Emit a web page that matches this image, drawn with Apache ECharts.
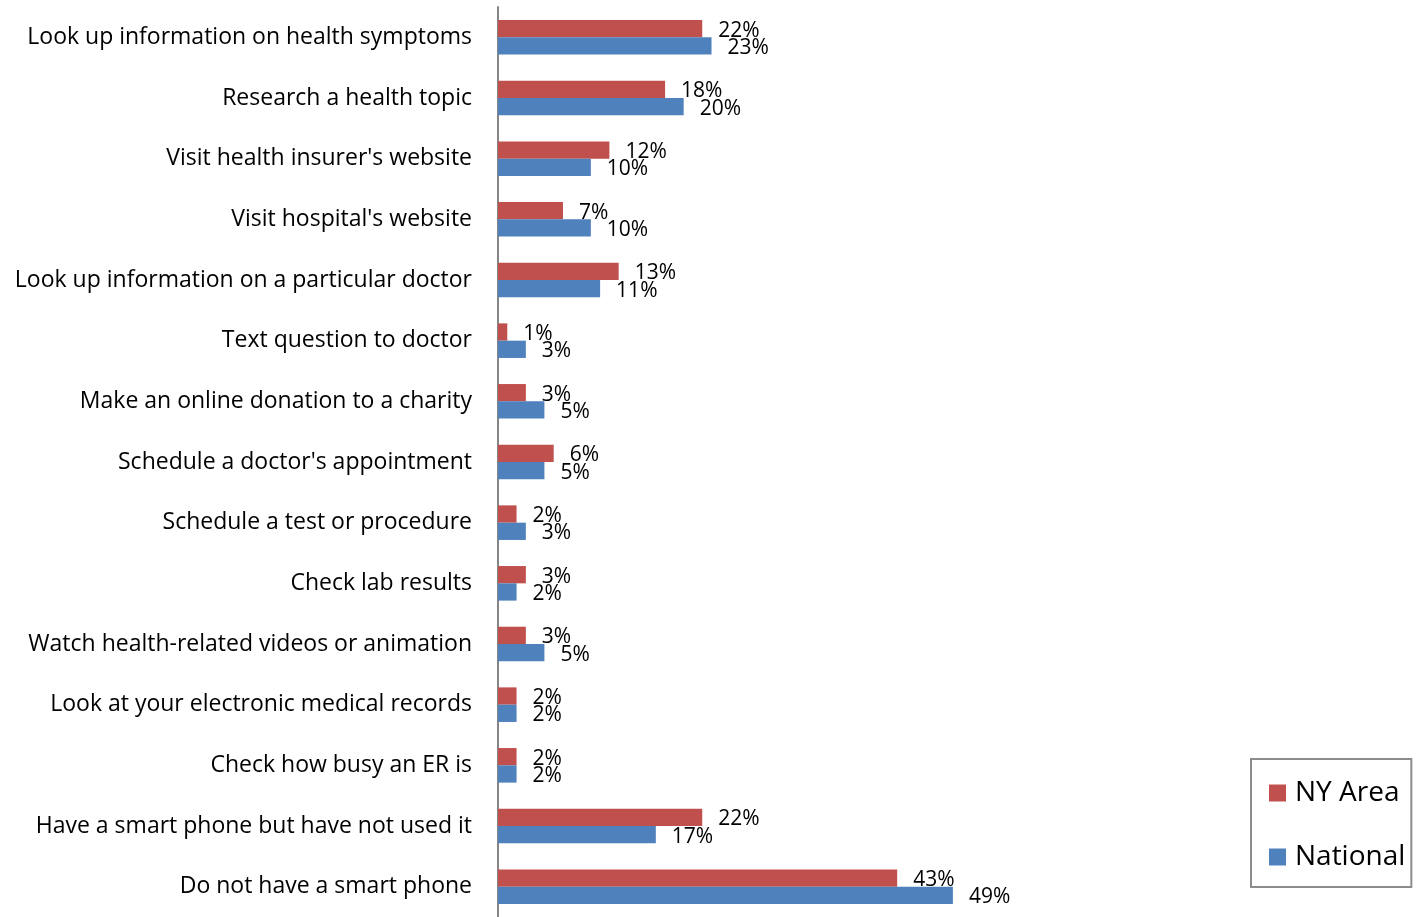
<!DOCTYPE html>
<html>
<head>
<meta charset="utf-8">
<script src="https://cdn.jsdelivr.net/npm/echarts@6/dist/echarts.min.js"></script>
<style>
  html, body { margin: 0; padding: 0; background: #fff; }
  #chart { width: 1416px; height: 917px; }
</style>
</head>
<body>
<div id="chart"></div>
<script>
const categories = [
  'Look up information on health symptoms',
  'Research a health topic',
  "Visit health insurer's website",
  "Visit hospital's website",
  'Look up information on a particular doctor',
  'Text question to doctor',
  'Make an online donation to a charity',
  "Schedule a doctor's appointment",
  'Schedule a test or procedure',
  'Check lab results',
  'Watch health-related videos or animation',
  'Look at your electronic medical records',
  'Check how busy an ER is',
  'Have a smart phone but have not used it',
  'Do not have a smart phone'
]
const nyArea = [22, 18, 12, 7, 13, 1, 3, 6, 2, 3, 3, 2, 2, 22, 43]
const national = [23, 20, 10, 10, 11, 3, 5, 5, 3, 2, 5, 2, 2, 17, 49]

const font = '"Open Sans", sans-serif'

// bar label, shared by both series
const barLabel = {
  show: true,
  position: 'right',
  distance: 16,
  offset: [0, 2],
  formatter: '{c}%',
  color: '#000',
  fontFamily: font,
  fontSize: 21
}

const chart = echarts.init(document.getElementById('chart'))
chart.setOption({
  animation: false,
  grid: { left: 498, top: 7, width: 557, height: 916 },
  legend: {
    orient: 'vertical',
    left: 1251,
    top: 759,
    padding: [19, 6, 15, 18],
    itemGap: 34,
    itemWidth: 17,
    itemHeight: 17,
    icon: 'rect',
    borderColor: '#8c8c8c',
    borderWidth: 2,
    textStyle: { fontFamily: font, fontSize: 28, lineHeight: 30, color: '#000', padding: [0, 0, 0, 4] },
    data: ['NY Area', 'National']
  },
  xAxis: {
    type: 'value',
    min: 0,
    max: 60,
    show: false
  },
  yAxis: {
    type: 'category',
    inverse: true,
    data: categories,
    axisLine: { lineStyle: { color: '#868686', width: 2 } },
    axisTick: { length: 7, lineStyle: { color: '#868686', width: 1 } },
    axisLabel: { margin: 26, color: '#000', fontFamily: font, fontSize: 23, padding: [6, 0, 0, 0] }
  },
  series: [
    {
      name: 'NY Area',
      type: 'bar',
      data: nyArea,
      barGap: 0,
      barCategoryGap: '43%',
      itemStyle: { color: '#C0504D' },
      label: barLabel
    },
    {
      name: 'National',
      type: 'bar',
      data: national,
      barGap: 0,
      barCategoryGap: '43%',
      itemStyle: { color: '#4F81BD' },
      label: barLabel
    }
  ]
})
</script>
</body>
</html>
